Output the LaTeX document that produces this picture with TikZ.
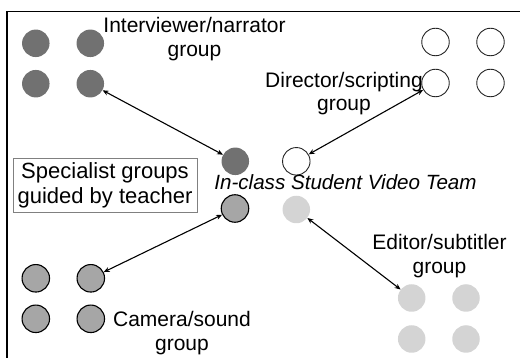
\documentclass[tikz,border=0pt]{standalone}
\usepackage{fontspec}
\setmainfont{Liberation Sans}
\usetikzlibrary{arrows.meta}
\definecolor{dotdark}{HTML}{717171}
\definecolor{dotmid}{HTML}{A6A6A6}
\definecolor{dotlight}{HTML}{D4D4D4}
\definecolor{boxgray}{HTML}{808080}
\begin{document}
\begin{tikzpicture}[x=1pt,y=-1pt,
  dot/.style={circle,inner sep=0pt,minimum size=27.5pt},
  darkdot/.style={dot,fill=dotdark},
  whitedot/.style={dot,draw=black!85,line width=0.9pt,fill=white},
  middot/.style={dot,draw=black,line width=1.1pt,fill=dotmid},
  lightdot/.style={dot,fill=dotlight},
  lab/.style={align=center,inner sep=0pt,anchor=north,font=\fontsize{21}{23.3}\selectfont},
  link/.style={{Stealth[length=6pt,width=5pt]}-{Stealth[length=6pt,width=5pt]},line width=1.1pt}]
\useasboundingbox (0,0) rectangle (520,358);
\clip (0,0) rectangle (520,358);
\draw[line width=1.5pt] (7,11.5) rectangle (540,380);
% interviewer group
\node[darkdot] (i1) at (35.8,43.3) {};
\node[darkdot] (i2) at (90.3,43.3) {};
\node[darkdot] (i3) at (35.8,83.7) {};
\node[darkdot] (i4) at (90.3,83.7) {};
% director group
\node[whitedot] (d1) at (435.5,42) {};
\node[whitedot] (d2) at (490.5,42) {};
\node[whitedot] (d3) at (435.5,83) {};
\node[whitedot] (d4) at (490.5,83) {};
% camera group
\node[middot] (c1) at (35.8,278.3) {};
\node[middot] (c2) at (90.8,278.3) {};
\node[middot] (c3) at (35.8,318.8) {};
\node[middot] (c4) at (90.8,318.8) {};
% editor group
\node[lightdot] (e1) at (411.7,298) {};
\node[lightdot] (e2) at (466,298) {};
\node[lightdot] (e3) at (411.7,339) {};
\node[lightdot] (e4) at (466,339) {};
% centre team
\node[darkdot] (ti) at (235.3,161.3) {};
\node[whitedot] (td) at (296.3,161.3) {};
\node[middot] (tc) at (235,208.5) {};
\node[lightdot] (te) at (296.3,209.5) {};
% links
\draw[link] (i4) -- (ti);
\draw[link] (d3) -- (td);
\draw[link] (c2) -- (tc);
\draw[link] (e1) -- (te);
% labels
\node[lab] (li) at (194.5,17.5) {Interviewer/narrator\\group};
\node[lab] (ld) at (344,72) {Director/scripting\\group};
\node[lab] (le) at (439.5,234.5) {Editor/subtitler\\group};
\node[lab] (lc) at (182,311.5) {Camera/sound\\group};
\node[lab,font=\fontsize{20.6}{24}\selectfont\itshape] (lt) at (345.5,174.5) {In-class Student Video Team};
\node[draw=boxgray,line width=0.9pt,align=center,inner sep=0pt,minimum width=184pt,minimum height=54pt,
  font=\fontsize{22}{25}\selectfont] (ls) at (105,185) {Specialist groups\\guided by teacher};
\end{tikzpicture}
\end{document}
